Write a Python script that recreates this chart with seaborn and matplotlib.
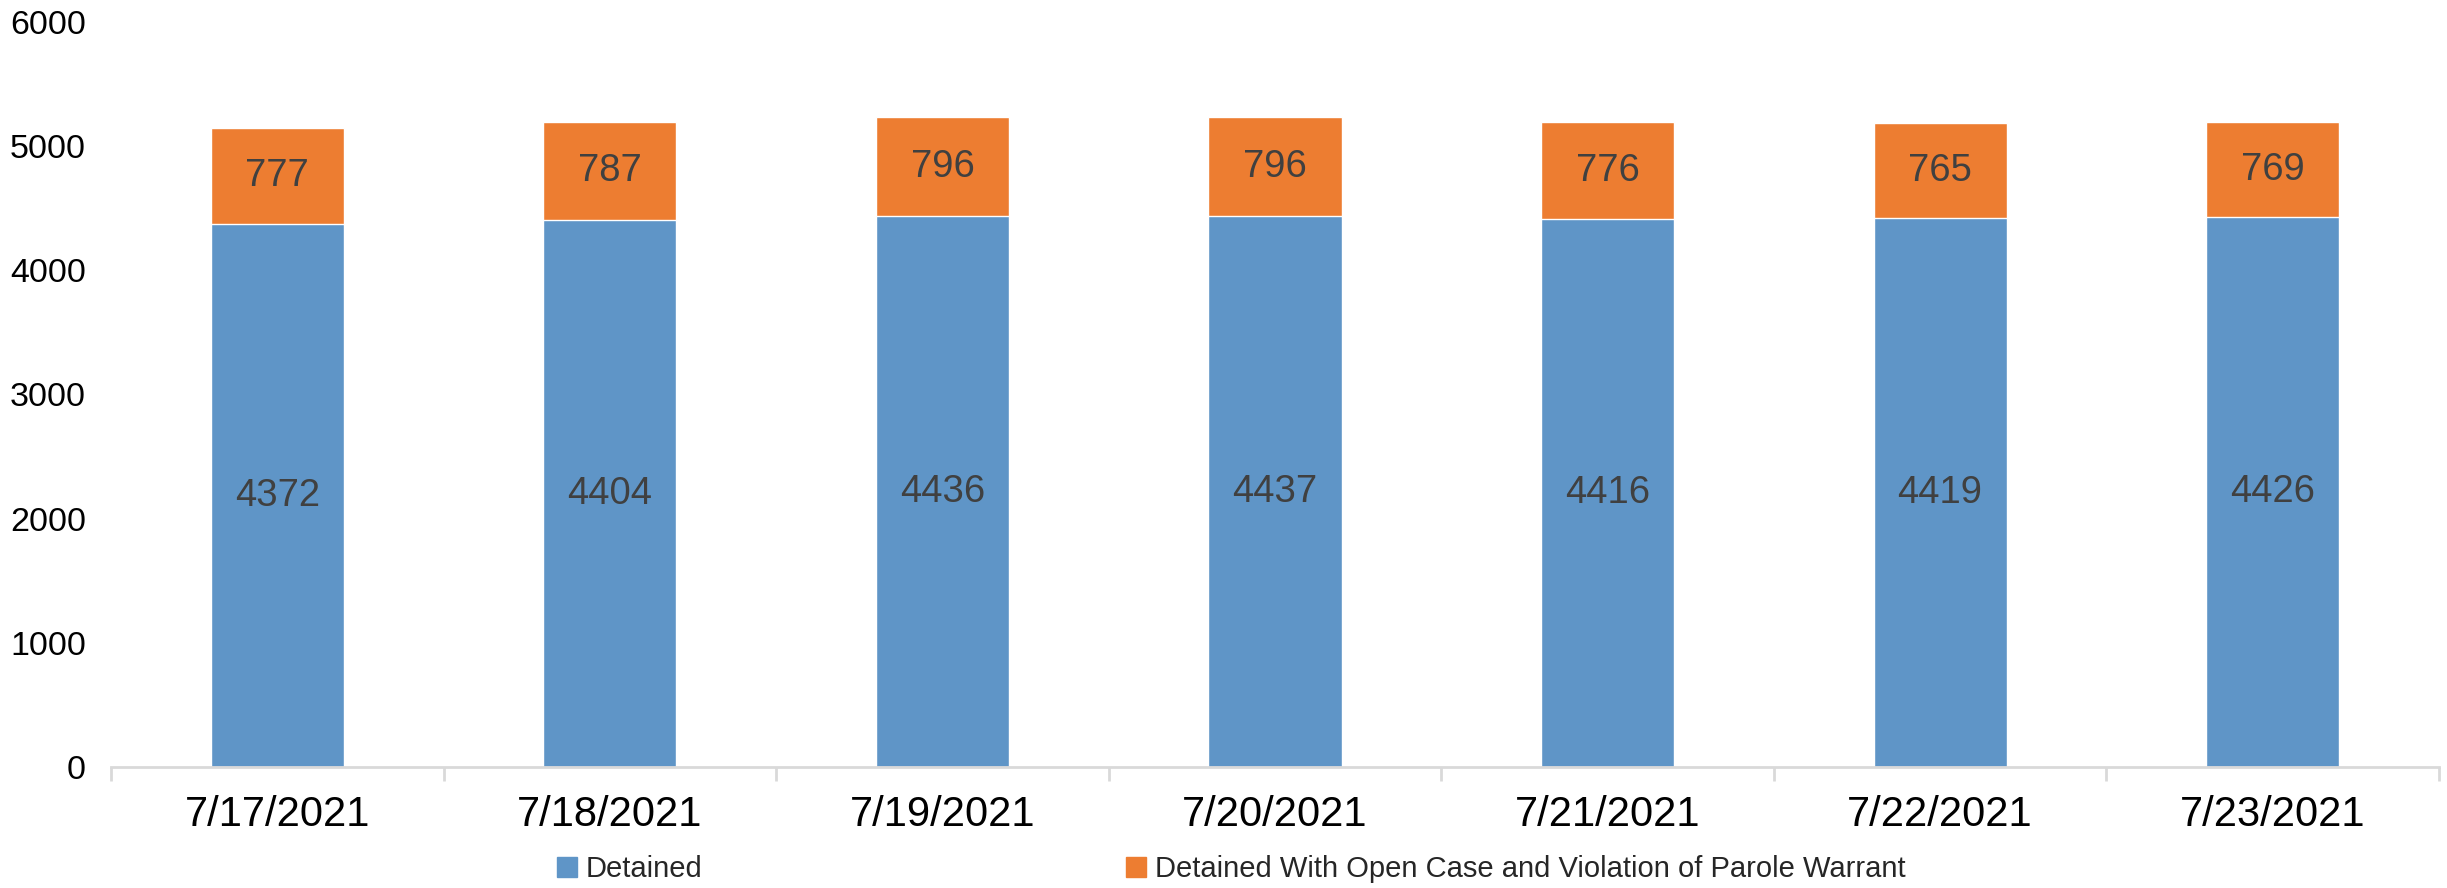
import numpy as np
import pandas as pd
import matplotlib
matplotlib.use("Agg")
import matplotlib.pyplot as plt
import seaborn as sns
from matplotlib.patches import Patch

dates = ["7/17/2021", "7/18/2021", "7/19/2021", "7/20/2021",
         "7/21/2021", "7/22/2021", "7/23/2021"]
detained = [4372, 4404, 4436, 4437, 4416, 4419, 4426]
open_case = [777, 787, 796, 796, 776, 765, 769]
series_names = ["Detained", "Detained With Open Case and Violation of Parole Warrant"]

blue = "#5f95c7"
orange = "#ed7d31"

df = pd.DataFrame({"date": dates, "detained": detained, "open_case": open_case})
df["total"] = df["detained"] + df["open_case"]

sns.set_theme(style="white")
plt.rcParams["font.family"] = ["Liberation Sans", "DejaVu Sans"]

fig = plt.figure(figsize=(24.47, 8.88), dpi=100)
ax = fig.add_axes([0.0454, 0.1363, 0.9513, 0.8389])

# stacked: total (orange) first, detained (blue) over it
sns.barplot(data=df, x="date", y="total", color=orange, width=0.4,
            saturation=1, ax=ax)
sns.barplot(data=df, x="date", y="detained", color=blue, width=0.4,
            saturation=1, ax=ax)

# labels centered in each segment
top_bars = ax.containers[0]
low_bars = ax.containers[1]
ax.bar_label(low_bars, labels=[str(v) for v in detained], label_type="center",
             fontsize=27.5, color="#404040")
for bar, v in zip(top_bars, open_case):
    ax.annotate(str(v), (bar.get_x() + bar.get_width() / 2, bar.get_height() - v / 2),
                ha="center", va="center", fontsize=27.5, color="#404040")

ax.set_ylim(0, 6000)
ax.set_xlim(-0.5, len(dates) - 0.5)
ax.set_yticks(range(0, 6001, 1000))
ax.set_xlabel("")
ax.set_ylabel("")

for s in ["top", "right", "left"]:
    ax.spines[s].set_visible(False)
ax.spines["bottom"].set_color("#d9d9d9")
ax.spines["bottom"].set_linewidth(2)

ax.set_xticks(np.arange(-0.5, len(dates), 1), minor=True)
ax.tick_params(axis="x", which="major", length=0, labelsize=30, pad=20, colors="black")
ax.tick_params(axis="x", which="minor", length=10, width=2, color="#d9d9d9", bottom=True)
ax.tick_params(axis="y", length=0, labelsize=24.5, pad=18, colors="black")
ax.grid(False)

handles = [Patch(color=blue, label=series_names[0]),
           Patch(color=orange, label=series_names[1])]
fig.legend(handles=handles, loc="center left", bbox_to_anchor=(0.2276, 0.021),
           ncol=2, frameon=False, fontsize=21, handlelength=0.7,
           handleheight=0.7, handletextpad=0.3, columnspacing=14.5,
           borderaxespad=0, borderpad=0)

fig.savefig("out.png", dpi=100, facecolor="white")
